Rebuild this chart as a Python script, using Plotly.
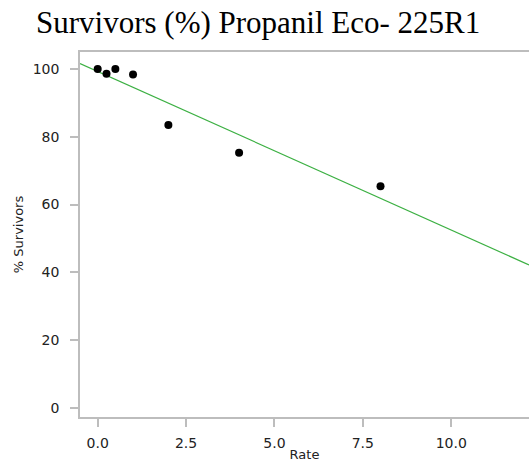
import numpy as np
import plotly.graph_objects as go

# Application rate and percentage of survivors
rate = [0, 0.25, 0.5, 1, 2, 4, 8]
survivors = [100, 98.6, 100, 98.4, 83.5, 75.3, 65.4]

x_range = [-0.5, 12.2]
y_range = [-2.65, 105]
x_ticks = [0, 2.5, 5, 7.5, 10]
x_tick_text = ["0.0", "2.5", "5.0", "7.5", "10.0"]
y_ticks = [0, 20, 40, 60, 80, 100]

# Least-squares linear fit across the visible x range
slope, intercept = np.polyfit(rate, survivors, 1)
fit_x = np.array(x_range)
fit_y = intercept + slope * fit_x

sans = "DejaVu Sans, Verdana, sans-serif"
tick_font = dict(family=sans, size=14, color="#222222")
axis_common = dict(
    showgrid=False, zeroline=False, showline=True, linecolor="#bdbdbd", linewidth=1.5,
    ticks="outside", ticklen=8, tickcolor="#bdbdbd", tickwidth=1.5, tickfont=tick_font,
)

fig = go.Figure()
fig.add_trace(go.Scatter(
    x=fit_x, y=fit_y, mode="lines",
    line=dict(color="#3cb043", width=1.2), hoverinfo="skip", showlegend=False,
))
fig.add_trace(go.Scatter(
    x=rate, y=survivors, mode="markers",
    marker=dict(color="black", size=8), showlegend=False,
))

fig.update_layout(
    width=529, height=468,
    margin=dict(l=80, r=0, t=52, b=51),
    paper_bgcolor="white", plot_bgcolor="white",
    title=dict(
        text="Survivors (%) Propanil Eco- 225R1",
        font=dict(family="Liberation Serif, Times New Roman, serif", size=31, color="black"),
        x=0.488, xanchor="center", y=0.975, yanchor="top",
    ),
    xaxis=dict(
        range=x_range, tickvals=x_ticks, ticktext=x_tick_text, mirror=True,
        ticklabelstandoff=4,
        title=dict(text="Rate", font=dict(family=sans, size=13, color="#222222"), standoff=0),
        **axis_common,
    ),
    yaxis=dict(
        range=y_range, tickvals=y_ticks, ticklabelstandoff=8,
        title=dict(text="% Survivors", font=dict(family=sans, size=13, color="#222222"), standoff=6),
        **axis_common,
    ),
)

fig.write_html("out.html")
